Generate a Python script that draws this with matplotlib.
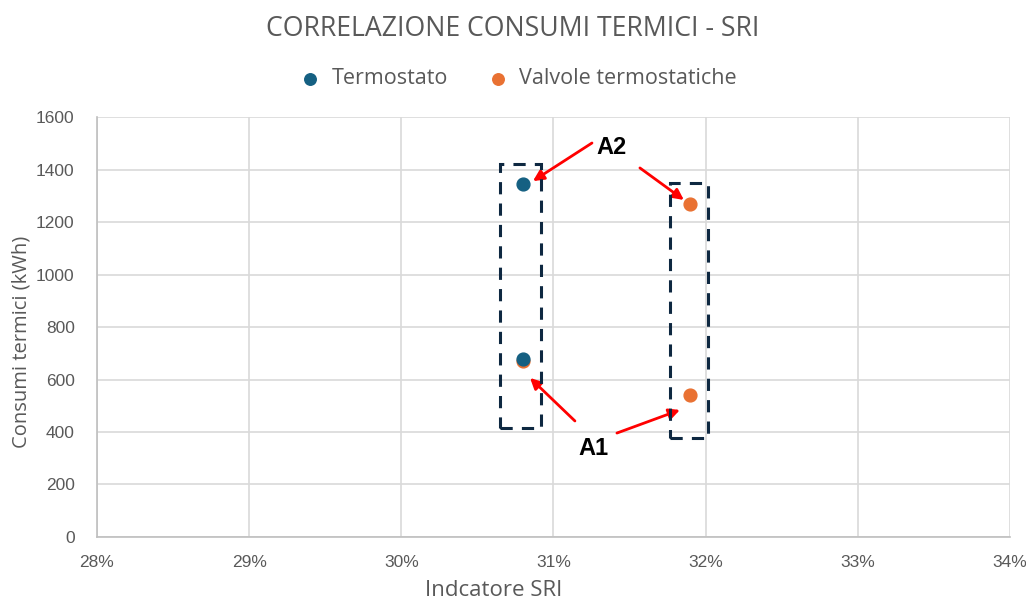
import matplotlib.pyplot as plt
from matplotlib.patches import Rectangle
from matplotlib.ticker import FuncFormatter

plt.rcParams['font.family'] = ['Open Sans', 'DejaVu Sans']

# SRI indicator (%) and thermal consumption (kWh)
termostato_sri = [30.8, 30.8]
termostato_kwh = [1345, 678]
valvole_sri = [30.8, 31.9, 31.9]
valvole_kwh = [672, 1269, 541]

x_ticks = [28, 29, 30, 31, 32, 33, 34]
y_ticks = [0, 200, 400, 600, 800, 1000, 1200, 1400, 1600]

blue = '#156082'
orange = '#E97132'
grey = '#595959'

fig = plt.figure(figsize=(10.26, 6.01), dpi=100)
ax = fig.add_axes([0.0945, 0.1065, 0.8899, 0.6988])

ax.scatter(valvole_sri, valvole_kwh, s=85, color=orange, zorder=3,
           label='Valvole termostatiche')
ax.scatter(termostato_sri, termostato_kwh, s=85, color=blue, zorder=4,
           label='Termostato')

ax.set_xlim(28, 34)
ax.set_ylim(0, 1600)
ax.set_xticks(x_ticks)
ax.set_yticks(y_ticks)
ax.xaxis.set_major_formatter(FuncFormatter(lambda v, p: f'{v:.0f}%'))
ax.grid(True, color='#d9d9d9', linewidth=1.2)
ax.set_axisbelow(True)
ax.tick_params(length=0, labelsize=12.5, labelcolor=grey)
ax.tick_params(axis='x', pad=13)
ax.tick_params(axis='y', pad=16)
for lbl in ax.get_xticklabels() + ax.get_yticklabels():
    lbl.set_family('Liberation Sans')
for side in ['top', 'right']:
    ax.spines[side].set_visible(False)
for side in ['left', 'bottom']:
    ax.spines[side].set_color('#bfbfbf')
    ax.spines[side].set_linewidth(1.2)

ax.set_xlabel('Indcatore SRI', fontsize=16, color=grey)
ax.xaxis.set_label_coords(0.434, -0.103)
ax.set_ylabel('Consumi termici (kWh)', fontsize=14.5, color=grey)
ax.yaxis.set_label_coords(-0.072, 0.464)
fig.suptitle('CORRELAZIONE CONSUMI TERMICI - SRI', fontsize=19.2, color=grey,
             y=0.975)

handles, labels = ax.get_legend_handles_labels()
fig.legend(handles[::-1], labels[::-1], loc='center', bbox_to_anchor=(0.5, 0.869),
           ncol=2, frameon=False, fontsize=15.5, labelcolor=grey,
           handletextpad=0.0, columnspacing=1.3, markerscale=0.9)

# dashed boxes grouping each configuration
box_style = dict(fill=False, edgecolor='#0E2841', linestyle=(0, (4, 3)),
                 linewidth=2.2, zorder=5)
ax.add_patch(Rectangle((30.648, 415), 0.269, 1006, **box_style))
ax.add_patch(Rectangle((31.765, 377), 0.249, 972, **box_style))

arrow = dict(arrowstyle='-|>', color='#ff0000', lw=2, mutation_scale=16,
             shrinkA=0, shrinkB=0)
label_font = dict(fontsize=17, fontweight='bold', family='Liberation Sans',
                  ha='center', va='center', zorder=6)
ax.text(31.384, 1482, 'A2', **label_font)
ax.annotate('', xy=(30.865, 1356), xytext=(31.253, 1501), arrowprops=arrow)
ax.annotate('', xy=(31.857, 1284), xytext=(31.568, 1406), arrowprops=arrow)
ax.text(31.266, 339, 'A1', **label_font)
ax.annotate('', xy=(30.846, 606), xytext=(31.141, 442), arrowprops=arrow)
ax.annotate('', xy=(31.831, 484), xytext=(31.417, 396), arrowprops=arrow)

fig.savefig('out.png', dpi=100)
